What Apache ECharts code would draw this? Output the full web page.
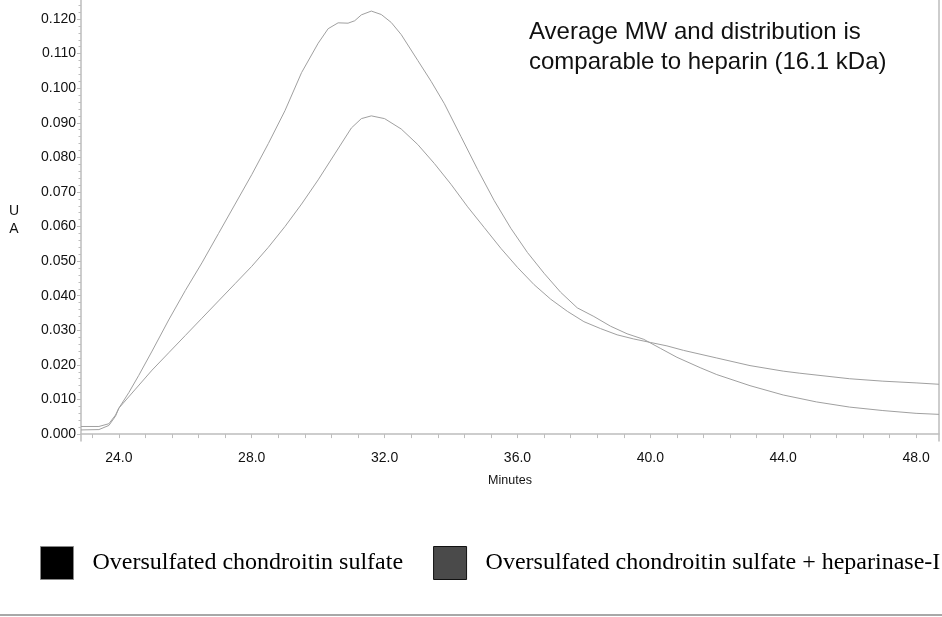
<!DOCTYPE html>
<html>
<head>
<meta charset="utf-8">
<script src="https://cdn.jsdelivr.net/npm/echarts@6/dist/echarts.min.js"></script>
<style>
html,body{margin:0;padding:0;background:#fff;}
#chart{width:942px;height:617px;}
</style>
</head>
<body>
<div id="chart"></div>
<script>
// ---- data ----
const timeA = [22.86,23.4,23.7,23.9,24.0,24.3,24.6,25.0,25.5,26.0,26.5,27.0,27.5,28.0,28.5,29.0,29.5,30.0,30.3,30.6,30.9,31.1,31.3,31.6,31.9,32.2,32.5,33.0,33.4,33.8,34.3,34.8,35.3,35.8,36.3,36.8,37.3,37.8,38.3,38.8,39.3,39.8,40.3,40.8,41.5,42.0,43.0,44.0,45.0,46.0,47.0,48.0,48.69];
const valA  = [0.0022,0.0022,0.0030,0.0055,0.0075,0.0120,0.0170,0.0240,0.0330,0.0415,0.0495,0.0580,0.0665,0.0750,0.0840,0.0935,0.1045,0.1130,0.1172,0.1189,0.1188,0.1195,0.1212,0.1223,0.1213,0.1190,0.1155,0.1080,0.1020,0.0955,0.0860,0.0765,0.0675,0.0595,0.0525,0.0465,0.0410,0.0365,0.0340,0.0312,0.0290,0.0274,0.0248,0.0222,0.0192,0.0172,0.0140,0.0113,0.0093,0.0078,0.0068,0.0060,0.0057];
const timeB = [22.86,23.4,23.7,23.9,24.0,24.5,25.0,25.5,26.0,26.5,27.0,27.5,28.0,28.5,29.0,29.5,30.0,30.5,31.0,31.3,31.6,32.0,32.5,33.0,33.5,34.0,34.5,35.0,35.5,36.0,36.5,37.0,37.5,38.0,38.5,39.0,39.5,40.0,40.5,41.0,42.0,43.0,44.0,44.5,46.0,47.0,48.0,48.69];
const valB  = [0.0012,0.0013,0.0025,0.0052,0.0075,0.0130,0.0185,0.0235,0.0285,0.0335,0.0385,0.0435,0.0485,0.0540,0.0600,0.0665,0.0735,0.0810,0.0885,0.0912,0.0920,0.0912,0.0882,0.0837,0.0782,0.0722,0.0657,0.0597,0.0537,0.0482,0.0432,0.0390,0.0355,0.0325,0.0305,0.0287,0.0275,0.0265,0.0255,0.0242,0.0220,0.0198,0.0182,0.0176,0.0160,0.0153,0.0148,0.0144];
const seriesNames = ['Oversulfated chondroitin sulfate', 'Oversulfated chondroitin sulfate + heparinase-I'];
const xTickValues = [23.2,24.0,24.8,25.6,26.4,27.2,28.0,28.8,29.6,30.4,31.2,32.0,32.8,33.6,34.4,35.2,36.0,36.8,37.6,38.4,39.2,40.0,40.8,41.6,42.4,43.2,44.0,44.8,45.6,46.4,47.2,48.0];
const xLabelValues = [24,28,32,36,40,44,48];
const yLabelValues = [0,0.01,0.02,0.03,0.04,0.05,0.06,0.07,0.08,0.09,0.10,0.11,0.12];
const yMinorValues = [0.002,0.004,0.006,0.008,0.012,0.014,0.016,0.018,0.022,0.024,0.026,0.028,0.032,0.034,0.036,0.038,0.042,0.044,0.046,0.048,0.052,0.054,0.056,0.058,0.062,0.064,0.066,0.068,0.072,0.074,0.076,0.078,0.082,0.084,0.086,0.088,0.092,0.094,0.096,0.098,0.102,0.104,0.106,0.108,0.112,0.114,0.116,0.118,0.122,0.124];
const annotationLines = ['Average MW and distribution is', 'comparable to heparin (16.1 kDa)'];
const xName = 'Minutes';
const yName = 'U\nA';

const X_MIN = 22.86, X_MAX = 48.69, Y_MIN = -0.002, Y_MAX = 0.1255;
const sans = "'Liberation Sans', Arial, sans-serif";
const serif = "'Liberation Serif', 'Times New Roman', serif";
const axisGray = '#bdbdbd';

const chart = echarts.init(document.getElementById('chart'), null, {renderer: 'canvas'});
const yBase = {type: 'value', min: Y_MIN, max: Y_MAX, splitLine: {show: false}};
chart.setOption({
  animation: false,
  backgroundColor: '#fff',
  grid: {left: 81, right: 3, top: 0, bottom: 176, containLabel: false},
  xAxis: {
    type: 'value', min: X_MIN, max: X_MAX,
    name: xName, nameLocation: 'middle', nameGap: 33,
    nameTextStyle: {fontFamily: sans, fontSize: 12.5, color: '#111'},
    axisLine: {show: true, lineStyle: {color: axisGray, width: 1.5}},
    axisTick: {show: true, length: 4, customValues: xTickValues, lineStyle: {color: axisGray}},
    axisLabel: {customValues: xLabelValues, margin: 10, fontFamily: sans, fontSize: 14, color: '#111',
      formatter: v => v.toFixed(1)},
    splitLine: {show: false}
  },
  yAxis: [
    Object.assign({}, yBase, {
      position: 'left',
      name: yName, nameLocation: 'middle', nameGap: 67, nameRotate: 0,
      nameTextStyle: {fontFamily: sans, fontSize: 14, color: '#111', align: 'center', lineHeight: 18},
      axisLine: {show: true, lineStyle: {color: axisGray, width: 1.5}},
      axisTick: {show: true, length: 4, customValues: yLabelValues, lineStyle: {color: axisGray}},
      axisLabel: {customValues: yLabelValues, margin: 5, fontFamily: sans, fontSize: 14, color: '#111',
        formatter: v => v.toFixed(3)}
    }),
    Object.assign({}, yBase, {
      position: 'left',
      axisLine: {show: false},
      axisTick: {show: true, length: 2.5, customValues: yMinorValues, lineStyle: {color: axisGray}},
      axisLabel: {show: false}
    }),
    Object.assign({}, yBase, {
      position: 'right',
      axisLine: {show: true, onZero: false, lineStyle: {color: axisGray, width: 1.5}},
      axisTick: {show: false},
      axisLabel: {show: false}
    })
  ],
  legend: {
    left: 40, top: 546, padding: 0, itemGap: 30, itemWidth: 33, itemHeight: 33,
    icon: 'rect', selectedMode: false,
    textStyle: {fontFamily: serif, fontSize: 24, color: '#000', padding: [0, 0, 0, 14]},
    data: [
      {name: seriesNames[0], itemStyle: {color: '#000', borderColor: '#888', borderWidth: 1}},
      {name: seriesNames[1], itemStyle: {color: '#4a4a4a', borderColor: '#111', borderWidth: 1}}
    ]
  },
  series: [
    {name: seriesNames[0], type: 'line', showSymbol: false, smooth: false,
     itemStyle: {color: '#000'}, lineStyle: {color: '#a0a0a0', width: 1},
     data: timeA.map((t, i) => [t, valA[i]])},
    {name: seriesNames[1], type: 'line', showSymbol: false, smooth: false,
     itemStyle: {color: '#4a4a4a'}, lineStyle: {color: '#a0a0a0', width: 1},
     data: timeB.map((t, i) => [t, valB[i]])}
  ],
  graphic: [
    {type: 'text', left: 529, top: 20, style: {text: annotationLines[0], font: "24px 'Liberation Sans', Arial, sans-serif", fill: '#111'}},
    {type: 'text', left: 529, top: 50, style: {text: annotationLines[1], font: "24px 'Liberation Sans', Arial, sans-serif", fill: '#111'}},
    {type: 'rect', left: 0, top: 614, shape: {width: 942, height: 2}, style: {fill: '#a8a8a8'}}
  ]
});
</script>
</body>
</html>
